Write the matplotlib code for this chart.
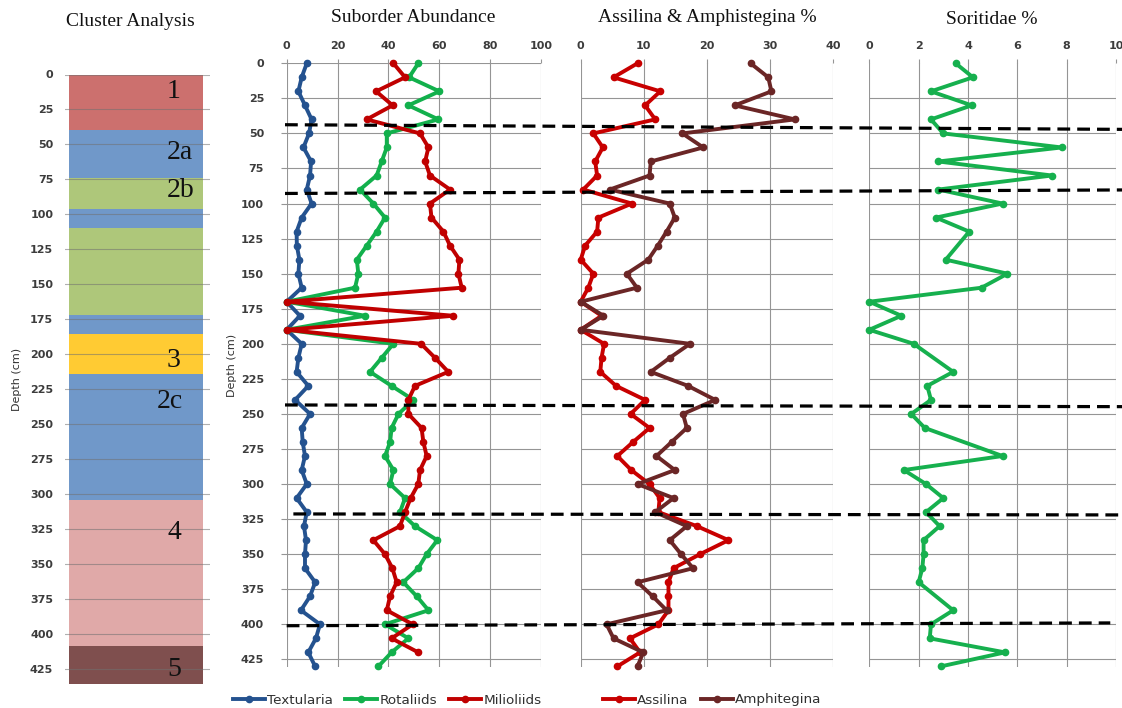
import numpy as np
import matplotlib.pyplot as plt

# ---- data ----
depth = list(range(0, 431, 10))

textularia = [7.9, 5.9, 4.6, 7.2, 9.8, 8.8, 6.6, 9.6, 9.2, 7.9,
              9.8, 5.9, 3.9, 4.0, 5.0, 4.6, 5.9, 0.0, 5.2, 0.0,
              5.9, 4.6, 3.9, 8.5, 3.3, 9.2, 5.9, 6.3, 7.2, 5.9,
              7.9, 3.9, 7.9, 6.8, 7.6, 7.2, 7.2, 11.2, 9.2, 5.6,
              13.1, 11.5, 8.5, 11.2]
rotaliids = [51.8, 48.2, 60.1, 47.9, 59.7, 39.4, 39.4, 37.4, 35.4, 28.9,
             34.1, 38.7, 35.4, 31.5, 27.6, 28.2, 26.9, 0.0, 30.8, 0.0,
             42.0, 37.4, 32.8, 41.3, 49.9, 44.0, 41.3, 40.7, 38.7, 42.0,
             40.7, 46.6, 44.6, 50.5, 59.3, 55.1, 51.8, 45.9, 51.2, 55.8,
             38.7, 47.9, 41.3, 36.1]
milioliids = [42.0, 46.6, 35.2, 41.7, 31.5, 52.5, 55.8, 54.5, 56.4, 64.3,
              56.4, 57.0, 61.7, 64.3, 68.0, 67.6, 68.9, 0.0, 65.6, 0.0,
              52.9, 58.4, 63.6, 50.5, 47.9, 47.9, 53.1, 53.8, 55.1, 52.5,
              51.8, 48.8, 46.6, 44.6, 34.1, 38.7, 41.6, 43.3, 40.7, 39.4,
              49.6, 41.3, 51.8, np.nan]

assilina = [9.0, 5.2, 12.6, 10.2, 11.8, 2.0, 3.5, 2.3, 2.6, 0.4,
            8.1, 2.8, 2.6, 0.7, 0.0, 2.0, 1.2, 0.0, 3.3, 0.0,
            3.7, 3.3, 3.1, 5.6, 10.2, 7.9, 10.9, 8.3, 5.8, 8.0,
            10.9, 12.5, 12.3, 18.4, 23.4, 18.9, 14.7, 13.9, 13.9, 13.9,
            12.3, 7.8, 9.4, 5.8]
amphistegina = [26.9, 29.7, 30.2, 24.4, 33.9, 16.1, 19.4, 11.1, 10.9, 4.6,
                14.1, 14.9, 13.6, 12.2, 10.7, 7.3, 8.9, 0.0, 3.6, 0.0,
                17.3, 14.1, 11.1, 17.0, 21.3, 16.2, 16.8, 14.4, 12.0, 14.9,
                9.0, 14.7, 11.8, 16.8, 14.1, 15.9, 17.8, 9.0, 11.4, 13.6,
                4.1, 5.2, 9.9, 9.0]

soritidae_depth = [0, 10, 20, 30, 40, 50, 60, 70, 80, 90, 100, 110, 120,
                   140, 150, 160, 170, 180, 190, 200,
                   220, 230, 240, 250, 260,
                   280, 290, 300, 310, 320, 330, 340, 350, 360, 370,
                   390, 400, 410, 420, 430]
soritidae = [3.5, 4.2, 2.5, 4.15, 2.5, 3.0, 7.8, 2.8, 7.4, 2.8, 5.4, 2.7, 4.05,
             3.1, 5.6, 4.55, 0.0, 1.3, 0.0, 1.8,
             3.4, 2.35, 2.5, 1.7, 2.25,
             5.4, 1.4, 2.3, 3.0, 2.3, 2.85, 2.2, 2.2, 2.15, 2.0,
             3.4, 2.5, 2.45, 5.5, 2.9]

cluster_top = [0, 40, 74, 96, 110, 172, 185.5, 214, 304, 408]
cluster_bottom = [40, 74, 96, 110, 172, 185.5, 214, 304, 408, 435.5]
cluster_color = ['#CC706E', '#7098C9', '#AEC77A', '#7098C9', '#AEC77A',
                 '#7098C9', '#FFCB33', '#7098C9', '#E0A9A8', '#7F4F4E']
cluster_names = ['1', '2a', '2b', '3', '2c', '4', '5']
cluster_name_depth = [12, 56, 83, 204, 234, 327, 425]

# zone boundaries (depth at left end, depth at right end)
boundary_left = [43.8, 92.8, 243.6, 321.3, 401.0]
boundary_right = [47.1, 90.3, 244.8, 322.0, 399.0]

W, H = 1122, 708
fig = plt.figure(figsize=(W / 100, H / 100), dpi=100)


def px_axes(x0, y0, x1, y1):
    return fig.add_axes([x0 / W, 1 - y1 / H, (x1 - x0) / W, (y1 - y0) / H])


GRID = '#959595'
TICK = dict(labelsize=8, labelcolor='#3c3c3c')

# ---- cluster column ----
ax1 = px_axes(65, 74.5, 209.5, 684)
ax1.set_xlim(0, 1)
ax1.set_ylim(435.5, 0)
for t, b, c in zip(cluster_top, cluster_bottom, cluster_color):
    ax1.barh(t, 0.927, height=b - t, left=0.028, align='edge', color=c, zorder=1)
ax1.set_yticks(np.arange(0, 426, 25))
ax1.set_xticks([])
ax1.yaxis.grid(True, color='#707070', lw=0.8, alpha=0.55, zorder=2)
ax1.set_axisbelow(False)
for s in ax1.spines.values():
    s.set_visible(False)
ax1.tick_params(axis='y', length=0, pad=8.5, **TICK)
ax1.set_ylabel('Depth (cm)', fontsize=8, color='#303030')
ax1.yaxis.set_label_coords(-0.30, 0.5)
for name, d in zip(cluster_names, cluster_name_depth):
    x = 0.637 if name == '2c' else 0.706
    ax1.text(x, d, name, ha='left', va='center', family='Liberation Serif',
             fontsize=20, color='#111111', zorder=3)


def style_panel(ax, xmax, xstep, show_depth):
    ax.set_xlim(0, xmax)
    ax.set_ylim(430.5, 0)
    ax.set_xticks(np.arange(0, xmax + 0.01, xstep))
    ax.set_yticks(np.arange(0 if show_depth else 25, 426, 25))
    ax.xaxis.tick_top()
    ax.grid(True, color=GRID, lw=0.8)
    ax.set_axisbelow(True)
    for s in ax.spines.values():
        s.set_visible(False)
    ax.tick_params(axis='x', direction='out', length=3, color=GRID, pad=6, **TICK)
    if show_depth:
        ax.tick_params(axis='y', direction='out', length=4.3, color=GRID, pad=12, **TICK)
        ax.set_ylabel('Depth (cm)', fontsize=8, color='#303030')
        ax.yaxis.set_label_coords(-0.196, 0.5)
    else:
        ax.tick_params(axis='y', length=0, labelleft=False)
    for lab in ax.get_xticklabels() + ax.get_yticklabels():
        lab.set_fontweight('bold')


LW, MS = 2.8, 4.5

# ---- suborder abundance ----
ax2 = px_axes(286.7, 63.3, 540.7, 667.1)
style_panel(ax2, 100, 20, True)
l_tex, = ax2.plot(textularia, depth, '-o', color='#24528F', lw=LW, ms=MS, clip_on=False, label='Textularia')
l_rot, = ax2.plot(rotaliids, depth, '-o', color='#12B04C', lw=LW, ms=MS, clip_on=False, label='Rotaliids')
l_mil, = ax2.plot(milioliids, depth, '-o', color='#C00000', lw=LW, ms=MS, clip_on=False, label='Milioliids')

# ---- assilina & amphistegina ----
ax3 = px_axes(580.7, 63.3, 833.3, 667.1)
style_panel(ax3, 40, 10, False)
l_ass, = ax3.plot(assilina, depth, '-o', color='#C80000', lw=LW, ms=MS, clip_on=False, label='Assilina')
l_amp, = ax3.plot(amphistegina, depth, '-o', color='#6B2626', lw=LW, ms=MS, clip_on=False, label='Amphitegina')

# ---- soritidae ----
ax4 = px_axes(869.3, 63.3, 1116, 667.1)
style_panel(ax4, 10, 2, False)
ax4.plot(soritidae, soritidae_depth, '-o', color='#16B04E', lw=LW, ms=MS, clip_on=False)

for lab in ax1.get_yticklabels():
    lab.set_fontweight('bold')

# ---- dashed zone boundaries drawn across panels ----
axd = px_axes(285, 63.3, 1122, 667.1)
axd.set_xlim(0, 1)
axd.set_ylim(430.5, 0)
axd.axis('off')
axd.patch.set_visible(False)
x_start = [0.0, 0.0, 0.0, 0.01, 0.002]
x_end = [1.0, 1.0, 1.0, 1.0, 0.986]
for d0, d1, xs, xe in zip(boundary_left, boundary_right, x_start, x_end):
    axd.plot([xs, xe], [d0, d1], color='black', lw=2.3, dashes=(4, 2.2), zorder=5)

# ---- titles ----
serif = dict(family='Liberation Serif', fontsize=14, ha='center', va='center', color='#111111')
fig.text(130 / W, 1 - 22 / H, 'Cluster Analysis', **serif)
fig.text(413 / W, 1 - 18 / H, 'Suborder Abundance', **serif)
fig.text(707 / W, 1 - 18 / H, 'Assilina & Amphistegina %', **serif)
fig.text(992 / W, 1 - 19 / H, 'Soritidae %', **serif)

# ---- legends ----
leg_kw = dict(loc='center', frameon=False, fontsize=9.7, handlelength=2.4,
              handletextpad=0.15, columnspacing=0.9, labelcolor='#303030')
fig.legend(handles=[l_tex, l_rot, l_mil], ncol=3, bbox_to_anchor=(387 / W, 1 - 700 / H), **leg_kw)
fig.legend(handles=[l_ass, l_amp], ncol=2, bbox_to_anchor=(712 / W, 1 - 700 / H), **leg_kw)

fig.savefig('out.png', dpi=100)
